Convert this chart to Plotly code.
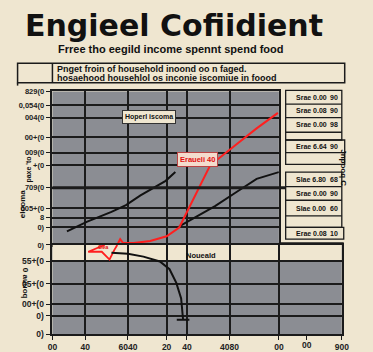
import plotly.graph_objects as go

W, H = 373, 352
BEIGE = "#efe6d0"
GRAY = "#8b8d93"
DARK = "#1b1b1b"
RED = "#ff1f1f"
FONT = "Liberation Sans"

# ---------------- data ----------------
top_y_ticks = [0, 18, 28, 38, 59, 82, 95, 111, 131, 144, 158]
top_y_text = ["0)", "0)", "8", "005+(0", "709(0", "+(0", "009(0", "00+(0", "004(0", "0,054(0", "829(0"]
top_x_grid = [34, 78, 118, 139, 183]

bot_y_ticks = [0, 19, 31, 52, 75]
bot_y_text = ["0)", "0)", "00+(0", "05+(0", "55+(0"]
bot_x_ticks = [0, 34, 78, 118, 139, 183, 234, 299]
bot_x_text = ["00", "40", "6040", "20", "40", "4080", "00", "900"]
bot_x_minor = [263]
bot_x_minor_text = ["00"]

black1_x = [15, 36, 61, 76, 91, 108, 117, 127]
black1_y = [14, 24, 34, 41, 51, 61, 66, 75]
black2_x = [131, 151, 168, 191, 211, 234]
black2_y = [19, 30, 40, 55, 68, 75]
red_top_x = [67, 70, 73, 84, 101, 118, 131, 147, 163, 187, 211, 233]
red_top_y = [0, 6, 2, 2, 4, 9, 18, 50, 82, 101, 120, 136]
red_band_x = [54, 37, 51, 59, 64, 67]
red_band_y = [92, 85, 85, 77, 87, 92]
black_bot_x = [61, 78, 94, 111, 121, 128, 133, 135]
black_bot_y = [84, 83, 80, 75, 67, 53, 37, 15]

table_labels = ["Srae 0.00", "Srae 0.08", "Srae 0.00", "Erae 6.64",
                "Slae 6.80", "Srae 0.00", "Slae 0.00", "Erae 0.08"]
table_values = ["90", "90", "98", "90", "68", "90", "60", "10"]
table_rows_py = [96, 110, 124, 147, 181, 195, 210, 236]

title = "Engieel Cofiidient"
subtitle = "Frree tho eegild income spennt spend food"
note_lines = ["Pnget froin of household inoond oo n faged.",
              "hosaehood househlol os inconie iscomiue in foood"]


def px(x):
    return x / W


def py(y):
    return 1 - y / H


fig = go.Figure()

fig.add_trace(go.Scatter(x=black1_x, y=black1_y, mode="lines",
                         line=dict(color="#111", width=2), xaxis="x", yaxis="y"))
fig.add_trace(go.Scatter(x=black2_x, y=black2_y, mode="lines",
                         line=dict(color="#111", width=2), xaxis="x", yaxis="y"))
fig.add_trace(go.Scatter(x=red_top_x, y=red_top_y, mode="lines",
                         line=dict(color=RED, width=2), xaxis="x", yaxis="y"))
fig.add_trace(go.Scatter(x=red_band_x, y=red_band_y, mode="lines",
                         line=dict(color=RED, width=1.8), xaxis="x2", yaxis="y2"))
fig.add_trace(go.Scatter(x=black_bot_x, y=black_bot_y, mode="lines",
                         line=dict(color="#111", width=2), xaxis="x2", yaxis="y2"))
fig.add_trace(go.Scatter(x=black_bot_x[-1:], y=black_bot_y[-1:], mode="markers",
                         marker=dict(symbol="line-ew", size=9,
                                     line=dict(color="#111", width=2)),
                         xaxis="x2", yaxis="y2"))

tickfont = dict(family=FONT, size=8.5, color="#222", weight="bold")
tickfont_top = dict(family=FONT, size=7.5, color="#222", weight="bold")
axis_common = dict(showgrid=True, gridcolor=DARK, gridwidth=1.6, zeroline=False,
                   showline=True, mirror=True, linecolor=DARK, linewidth=1.6)

fig.update_layout(
    width=W, height=H, autosize=False,
    margin=dict(l=0, r=0, t=0, b=0),
    paper_bgcolor=BEIGE, plot_bgcolor=GRAY,
    showlegend=False,
    xaxis=dict(domain=[px(49), px(283)], range=[0, 234], anchor="y",
               tickmode="array", tickvals=top_x_grid, showticklabels=False,
               ticks="", **axis_common),
    yaxis=dict(domain=[py(248), py(90)], range=[0, 158], anchor="x",
               tickmode="array", tickvals=top_y_ticks, ticktext=top_y_text,
               ticks="outside", ticklen=5, tickcolor=DARK, tickwidth=1.2,
               tickfont=tickfont_top, **axis_common),
    xaxis2=dict(domain=[px(49), px(348)], range=[0, 299], anchor="y2",
                tickmode="array", tickvals=bot_x_ticks, ticktext=bot_x_text,
                ticks="outside", ticklen=4, tickcolor=DARK, tickwidth=1.2,
                minor=dict(tickmode="array", tickvals=bot_x_minor, ticks="outside",
                           ticklen=4, tickcolor=DARK, showgrid=False),
                tickfont=tickfont, **axis_common),
    yaxis2=dict(domain=[py(340), py(248)], range=[0, 92], anchor="x2",
                tickmode="array", tickvals=bot_y_ticks, ticktext=bot_y_text,
                ticks="outside", ticklen=5, tickcolor=DARK, tickwidth=1.2,
                tickfont=tickfont, **axis_common),
)

shapes = []
# beige band at top of the lower panel
shapes.append(dict(type="rect", xref="x2", yref="y2", x0=0, x1=299, y0=75, y1=92,
                   fillcolor=BEIGE, line=dict(width=0), layer="below"))
# thick line in top panel
shapes.append(dict(type="line", xref="paper", yref="paper", x0=px(49), x1=px(290),
                   y0=py(189), y1=py(189), line=dict(color=DARK, width=3)))
# note box
shapes.append(dict(type="rect", xref="paper", yref="paper", x0=px(13), x1=px(351),
                   y0=py(81), y1=py(61), line=dict(color=DARK, width=1.5)))
shapes.append(dict(type="line", xref="paper", yref="paper", x0=px(49), x1=px(49),
                   y0=py(81), y1=py(61), line=dict(color=DARK, width=1.5)))
shapes.append(dict(type="line", xref="paper", yref="paper", x0=px(13), x1=px(13),
                   y0=py(84), y1=py(81), line=dict(color=DARK, width=1.5)))


def rect(x0, y0, x1, y1):
    shapes.append(dict(type="rect", xref="paper", yref="paper", x0=px(x0), x1=px(x1),
                       y0=py(y1), y1=py(y0), line=dict(color=DARK, width=1.3)))


def hline(x0, x1, y, w=1.3):
    shapes.append(dict(type="line", xref="paper", yref="paper", x0=px(x0), x1=px(x1),
                       y0=py(y), y1=py(y), line=dict(color=DARK, width=w)))


rect(290, 89, 348, 140)
hline(290, 348, 103)
hline(290, 348, 117)
hline(290, 348, 132)
rect(290, 140, 351, 165)
hline(290, 351, 153)
rect(290, 173, 348, 230)
hline(290, 348, 188)
hline(290, 348, 202)
hline(290, 348, 218)
rect(290, 230, 350, 242)
hline(283, 350, 246, 1.5)

fig.update_layout(shapes=shapes)

ann = []
ann.append(dict(text="<b>" + title + "</b>", x=px(175), y=py(22), xref="paper",
                yref="paper", showarrow=False, xanchor="center", yanchor="middle",
                font=dict(family="DejaVu Sans", size=30, color="#111")))
ann.append(dict(text="<b>" + subtitle + "</b>", x=px(53), y=py(46), xref="paper",
                yref="paper", showarrow=False, xanchor="left", yanchor="middle",
                font=dict(family=FONT, size=11, color="#111")))
for i, line in enumerate(note_lines):
    ann.append(dict(text="<b>" + line + "</b>", x=px(52), y=py(66.5 + 10 * i),
                    xref="paper", yref="paper", showarrow=False, xanchor="left",
                    yanchor="middle", font=dict(family=FONT, size=9, color="#111")))
for lab, val, yy in zip(table_labels, table_values, table_rows_py):
    ann.append(dict(text="<b>" + lab + "</b>", x=px(299), y=py(yy), xref="paper",
                    yref="paper", showarrow=False, xanchor="left", yanchor="middle",
                    font=dict(family=FONT, size=7, color="#111")))
    ann.append(dict(text="<b>" + val + "</b>", x=px(346), y=py(yy), xref="paper",
                    yref="paper", showarrow=False, xanchor="right", yanchor="middle",
                    font=dict(family=FONT, size=7, color="#111")))
ann.append(dict(text="<b>" + bot_x_minor_text[0] + "</b>", x=bot_x_minor[0], y=0,
                xref="x2", yref="y2", showarrow=False, yanchor="top", yshift=-4,
                font=tickfont))
ann.append(dict(text="<b>Hoperl iscoma</b>", x=px(121), y=py(109.5), xref="paper",
                yref="paper", showarrow=False, bgcolor=BEIGE, bordercolor="#333",
                borderwidth=1, borderpad=2,
                font=dict(family=FONT, size=7, color="#111")))
ann.append(dict(text="<b>Eraueli 40</b>", x=px(199), y=py(160), xref="paper",
                yref="paper", showarrow=False, bgcolor="#f4dccd", bordercolor="#b44",
                borderwidth=1, borderpad=2,
                font=dict(family=FONT, size=7.5, color="#e01010")))
ann.append(dict(text="<b>Noueald</b>", x=px(203), y=py(259), xref="paper",
                yref="paper", showarrow=False, yanchor="middle",
                font=dict(family=FONT, size=7.5, color="#111")))
ann.append(dict(text="<b>Gea</b>", x=px(94), y=py(255.5), xref="paper",
                yref="paper", showarrow=False,
                font=dict(family=FONT, size=5.5, color="#e01010")))
ann.append(dict(text="<b>elooma</b>", x=px(11), y=py(206), xref="paper",
                yref="paper", showarrow=False, textangle=-90,
                font=dict(family=FONT, size=8, color="#111")))
ann.append(dict(text="<b>paxe 'to</b>", x=px(19), y=py(170), xref="paper",
                yref="paper", showarrow=False, textangle=-90,
                font=dict(family=FONT, size=7, color="#111")))
ann.append(dict(text="<b>0 auuoq</b>", x=px(14), y=py(305), xref="paper",
                yref="paper", showarrow=False, textangle=90,
                font=dict(family=FONT, size=8, color="#111")))
ann.append(dict(text="<b>Jnpooq C</b>", x=px(357), y=py(168), xref="paper",
                yref="paper", showarrow=False, textangle=90,
                font=dict(family=FONT, size=8, color="#111")))
fig.update_layout(annotations=ann)

fig.write_html("out.html")
